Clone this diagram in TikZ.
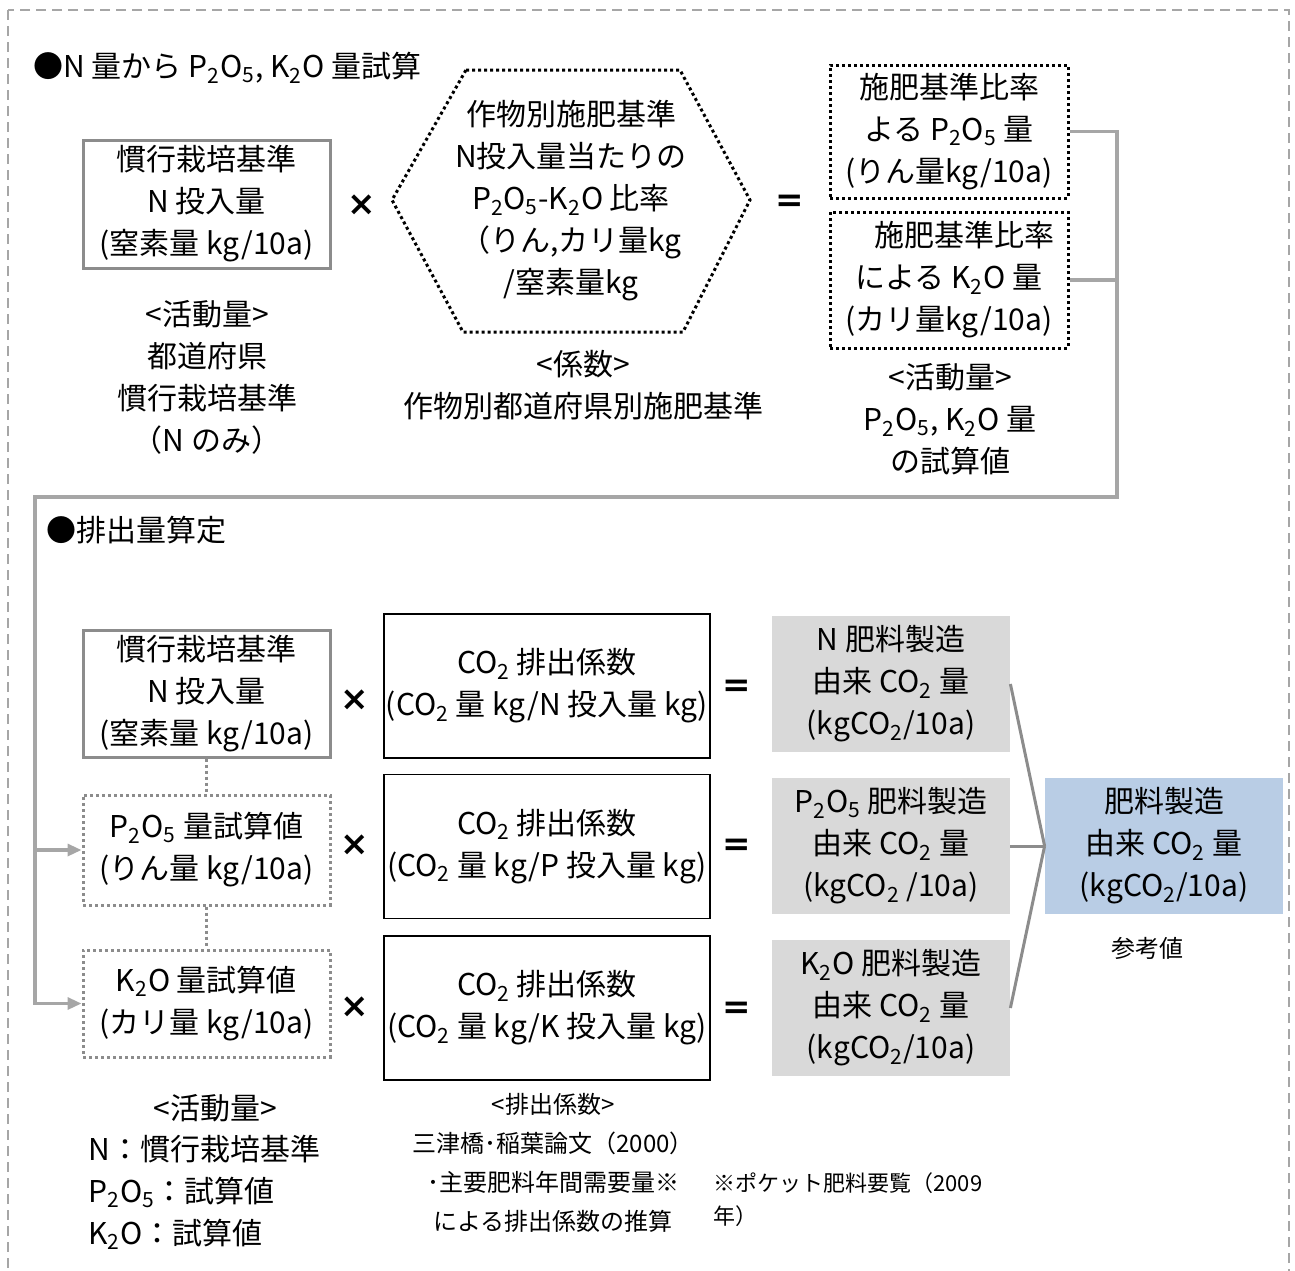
\documentclass[tikz,border=0pt]{standalone}
\usepackage{fontspec}
\setmainfont{Noto Sans CJK JP}
\newfontfamily\symf{DejaVu Sans}
\usetikzlibrary{arrows.meta}
\definecolor{lg}{HTML}{A6A6A6}
\definecolor{mg}{HTML}{8C8C8C}
\definecolor{gfill}{HTML}{D9D9D9}
\definecolor{bfill}{HTML}{B9CDE5}
\newcommand{\sbs}[1]{\textsubscript{#1}}
\tikzset{
  tx/.style={font=\fontsize{15pt}{21pt}\selectfont, align=center, inner sep=0pt, text=black},
  sm/.style={font=\fontsize{12pt}{19.5pt}\selectfont, align=center, inner sep=0pt},
  gbox/.style={tx, draw=mg, line width=1.5pt, minimum width=123.5pt},
  gdot/.style={tx, draw=mg, line width=1.5pt, dash pattern=on 1.5pt off 1.5pt, minimum width=123.5pt},
  kdot/.style={tx, draw=black, line width=1.5pt, dash pattern=on 1.5pt off 1.5pt, minimum width=119pt},
  cbox/.style={tx, draw=black, line width=0.9pt, minimum width=163pt, minimum height=72pt},
  fbox/.style={tx, fill=gfill, minimum width=119pt, minimum height=68pt},
  bluebox/.style={tx, fill=bfill, minimum width=119pt, minimum height=68pt},
  opx/.style={inner sep=0pt, font=\symf\bfseries\fontsize{17pt}{17pt}\selectfont},
  conn/.style={draw=lg, line width=1.6pt},
  cvg/.style={draw=mg, line width=1.5pt},
  arr/.style={conn, -{Triangle[length=7pt,width=6pt]}},
}
\begin{document}
\begin{tikzpicture}[x=0.5pt,y=-0.5pt]
\useasboundingbox (0,0) rectangle (1295,1270);
% outer dashed frame
\draw[lg, line width=0.8pt, dash pattern=on 5pt off 3pt] (8,10) rectangle (1289,1300);

% ---- section 1
\node[tx, anchor=west] (t1) at (33,68) {●N 量から P\sbs{2}O\sbs{5}, K\sbs{2}O 量試算};
\node[gbox, minimum height=64pt] (bA) at (206.5,204) {慣行栽培基準\\N 投入量\\(窒素量 kg/10a)};
\node[opx] (x1) at (362,205) {×};
\draw[black, line width=1.5pt, dash pattern=on 1.5pt off 1.5pt]
  (466,70) -- (680,70) -- (750,200) -- (683,332) -- (463,332) -- (392,200) -- cycle;
\node[tx] (hex) at (571,201) {作物別施肥基準\\N投入量当たりの\\P\sbs{2}O\sbs{5}-K\sbs{2}O 比率\\（りん,カリ量kg\\/窒素量kg};
\node[opx] (e1) at (790,203) {=};
\node[kdot, minimum height=66.5pt] (bP) at (949,131.5) {施肥基準比率\\よる P\sbs{2}O\sbs{5} 量\\(りん量kg/10a)};
\node[kdot, minimum height=68pt] (bK) at (949,280) {\hspace*{1em}施肥基準比率\\による K\sbs{2}O 量\\(カリ量kg/10a)};

\node[tx] (lA) at (207,377.5) {<活動量>\\都道府県\\慣行栽培基準\\（N のみ）};
\node[tx] (lH) at (583,385) {<係数>\\作物別都道府県別施肥基準};
\node[tx] (lK) at (950,419.5) {<活動量>\\P\sbs{2}O\sbs{5}, K\sbs{2}O 量\\の試算値};

% ---- section 2
\node[tx, anchor=west] (t2) at (46,530) {●排出量算定};
\node[gbox, minimum height=63.5pt] (bN2) at (206.5,693.5) {慣行栽培基準\\N 投入量\\(窒素量 kg/10a)};
\node[gdot, minimum height=55pt] (bP2) at (206.5,850) {P\sbs{2}O\sbs{5} 量試算値\\(りん量 kg/10a)};
\node[gdot, minimum height=53.5pt] (bK2) at (206.5,1003.5) {K\sbs{2}O 量試算値\\(カリ量 kg/10a)};
\draw[mg, line width=1.5pt, dash pattern=on 1.5pt off 1.5pt] (bN2.south) -- (bP2.north);
\draw[mg, line width=1.5pt, dash pattern=on 1.5pt off 1.5pt] (bP2.south) -- (bK2.north);

\node[opx] (x2) at (355,700) {×};
\node[opx] (x3) at (355,845) {×};
\node[opx] (x4) at (355,1007) {×};

\node[cbox] (c1) at (547,686) {CO\sbs{2} 排出係数\\(CO\sbs{2} 量 kg/N 投入量 kg)};
\node[cbox] (c2) at (547,846.5) {CO\sbs{2} 排出係数\\(CO\sbs{2} 量 kg/P 投入量 kg)};
\node[cbox] (c3) at (547,1008) {CO\sbs{2} 排出係数\\(CO\sbs{2} 量 kg/K 投入量 kg)};

\node[opx] (e2) at (737,688) {=};
\node[opx] (e3) at (737,847) {=};
\node[opx] (e4) at (737,1010) {=};

\node[fbox] (g1) at (891,684) {N 肥料製造\\由来 CO\sbs{2} 量\\(kgCO\sbs{2}/10a)};
\node[fbox] (g2) at (891,846) {P\sbs{2}O\sbs{5} 肥料製造\\由来 CO\sbs{2} 量\\(kgCO\sbs{2} /10a)};
\node[fbox] (g3) at (891,1008) {K\sbs{2}O 肥料製造\\由来 CO\sbs{2} 量\\(kgCO\sbs{2}/10a)};
\node[bluebox] (bl) at (1164,846) {肥料製造\\由来 CO\sbs{2} 量\\(kgCO\sbs{2}/10a)};
\node[sm] (ref) at (1147,948) {参考値};

\draw[cvg] (g1.east) -- (bl.west);
\draw[cvg] (g2.east) -- (bl.west);
\draw[cvg] (g3.east) -- (bl.west);

% connectors section 1 -> section 2
\coordinate (j1) at (1117,497);
\coordinate (j2) at (35,497);
\draw[conn] (bK.east) -- (bK.east -| j1);
\draw[arr] (bP.east) -| (j1) -- (j2) |- (bK2.west);
\draw[arr] (j2 |- bP2.west) -- (bP2.west);

% bottom labels
\node[tx] (lb1) at (215,1108) {<活動量>};
\node[tx, anchor=west, align=left] (lb2) at (88,1192) {N：慣行栽培基準\\P\sbs{2}O\sbs{5}：試算値\\K\sbs{2}O：試算値};
\node[sm] (lb3) at (553,1163) {<排出係数>\\三津橋･稲葉論文（2000）\\･主要肥料年間需要量※\\による排出係数の推算};
\node[inner sep=0pt, anchor=west, align=left, font=\fontsize{11pt}{16.5pt}\selectfont] (lb4) at (713,1199.5) {※ポケット肥料要覧（2009\\年）};
\end{tikzpicture}
\end{document}
